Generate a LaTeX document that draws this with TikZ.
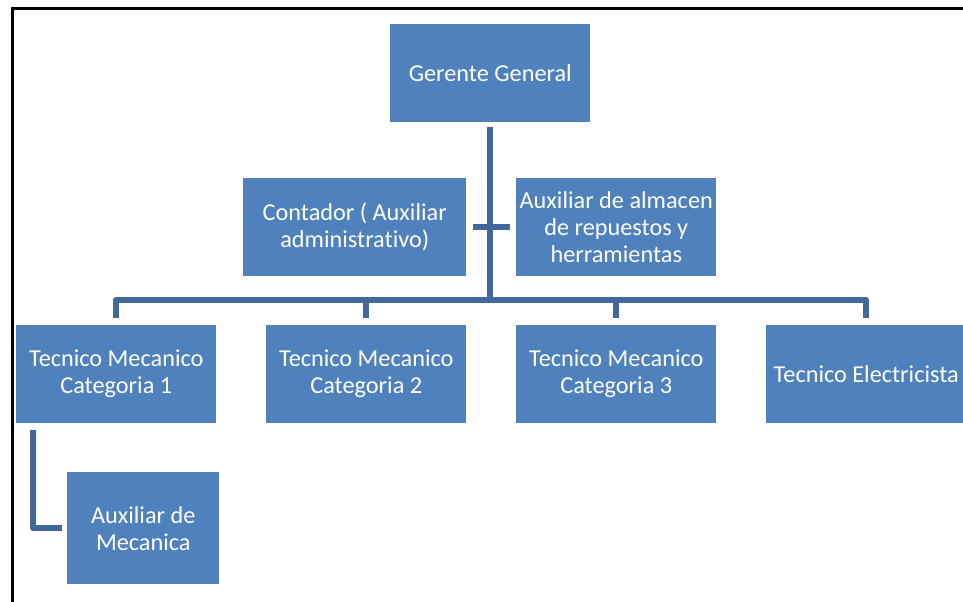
\documentclass[tikz,border=0pt]{standalone}
\usepackage{fontspec}
\setmainfont[Ligatures=NoCommon]{Carlito}
\definecolor{boxblue}{HTML}{4F81BD}
\definecolor{linkblue}{HTML}{41679B}
\begin{document}
\begin{tikzpicture}[x=0.75pt,y=-0.75pt,
  box/.style={fill=boxblue, text=white, align=center, inner sep=0pt,
    minimum width=150pt, minimum height=73pt, anchor=north west,
    font=\fontsize{18.2}{20.25}\selectfont},
  link/.style={draw=linkblue, line width=4.5pt, line join=round}]
\useasboundingbox (0,0) rectangle (963,602);
\clip (0,0) rectangle (963,602);

% frame
\draw[line width=2.25pt, black] (12.5,610) -- (12.5,9) -- (975,9);

% boxes
\node[box] (ger) at (390,24) {Gerente General};
\node[box, minimum width=167.25pt] (cont) at (243,178) {Contador ( Auxiliar\\administrativo)};
\node[box] (alm) at (516,178) {Auxiliar de almacen\\de repuestos y\\herramientas};
\node[box] (t1) at (16,325) {Tecnico Mecanico\\Categoria 1};
\node[box] (t2) at (266,325) {Tecnico Mecanico\\Categoria 2};
\node[box] (t3) at (516,325) {Tecnico Mecanico\\Categoria 3};
\node[box] (t4) at (766,325) {Tecnico Electricista};
\node[box, minimum width=114pt, minimum height=84pt] (auxm) at (67,472) {Auxiliar de\\Mecanica};

% connectors
\coordinate (bus) at (491,300);
\draw[link, shorten <=4pt] (ger.south) -- (ger.south |- bus);
\draw[link, shorten <=4.5pt, shorten >=4.5pt] (cont.east) -- (alm.west);
\draw[link, shorten <=5pt, shorten >=5pt] (t1.north) -- (t1.north |- bus) -- (t4.north |- bus) -- (t4.north);
\draw[link, shorten >=5pt] (t2.north |- bus) -- (t2.north);
\draw[link, shorten >=5pt] (t3.north |- bus) -- (t3.north);
\draw[link, shorten <=5pt, shorten >=4pt] ([xshift=12.75pt]t1.south west) |- (auxm.west);
\end{tikzpicture}
\end{document}
